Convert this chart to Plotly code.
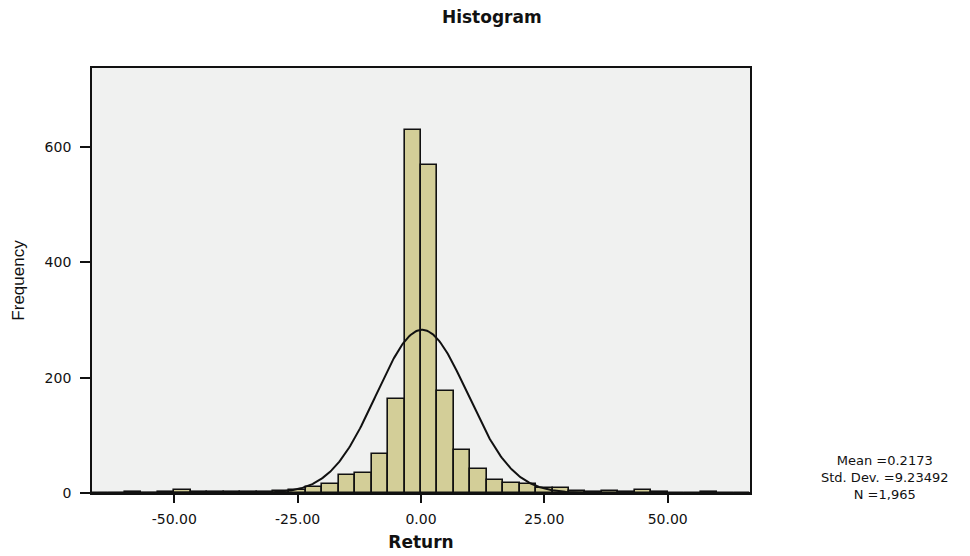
import numpy as np
import plotly.graph_objects as go

# ---- data ----
bin_width = 10.0 / 3.0
bin_left_edges = [i * bin_width for i in range(-20, 20)]
counts = [0, 0, 1, 0, 1, 5, 1, 1, 2, 2,
          2, 3, 6, 10, 16, 32, 35, 67, 163, 630,
          569, 177, 74, 42, 22, 17, 15, 8, 9, 3,
          2, 3, 2, 5, 1, 0, 0, 1, 0, 0]
stat_mean = 0.2173
stat_sd = 9.23492
stat_n = 1965
x_tick_vals = [-50, -25, 0, 25, 50]
x_tick_text = ["-50.00", "-25.00", "0.00", "25.00", "50.00"]
y_tick_vals = [0, 200, 400, 600]
stat_lines = ["Mean =0.2173", "Std. Dev. =9.23492", "N =1,965"]

centers = [e + bin_width / 2 for e in bin_left_edges]

# normal curve implied by the stated statistics
xc = np.linspace(-66.67, 66.67, 600)
yc = stat_n * bin_width / (stat_sd * np.sqrt(2 * np.pi)) * np.exp(-0.5 * ((xc - stat_mean) / stat_sd) ** 2)

fig = go.Figure()
fig.add_trace(go.Bar(
    x=centers, y=counts, width=bin_width,
    marker=dict(color="#D3CE98", line=dict(color="#111111", width=1.6)),
    hoverinfo="x+y", showlegend=False,
))
fig.add_trace(go.Scatter(
    x=xc, y=yc, mode="lines",
    line=dict(color="#111111", width=2), showlegend=False, hoverinfo="skip",
))

PL, PR, PT, PB = 92, 220, 68, 63
W, H = 970, 556
ph = H - PT - PB

fig.update_layout(
    width=W, height=H,
    margin=dict(l=PL, r=PR, t=PT, b=PB, autoexpand=False),
    paper_bgcolor="white",
    plot_bgcolor="#F0F1F0",
    bargap=0,
    title=dict(text="<b>Histogram</b>", x=0.507, xref="container", xanchor="center",
               y=1 - 17 / H, yref="container", yanchor="middle",
               font=dict(family="DejaVu Sans", size=17, color="#111111")),
    font=dict(family="DejaVu Sans", color="#111111"),
)

fig.update_xaxes(
    range=[-66.67, 66.67], automargin=False,
    tickvals=x_tick_vals, ticktext=x_tick_text,
    ticks="outside", ticklen=8, tickwidth=1.5, tickcolor="#111111",
    tickfont=dict(family="DejaVu Sans", size=14, color="#111111"),
    ticklabelstandoff=4,
    showline=True, linecolor="#111111", linewidth=1.8, mirror=True,
    showgrid=False, zeroline=False,
    title=dict(text="<b>Return</b>", standoff=10,
               font=dict(family="DejaVu Sans", size=17, color="#111111")),
)
fig.update_yaxes(
    range=[0, 737], automargin=False,
    tickvals=y_tick_vals,
    ticks="outside", ticklen=10, tickwidth=1.5, tickcolor="#111111",
    tickfont=dict(family="DejaVu Sans", size=14, color="#111111"),
    ticklabelstandoff=6,
    showline=True, linecolor="#111111", linewidth=1.8, mirror=True,
    showgrid=False, zeroline=False,
    title=dict(text="Frequency", standoff=16,
               font=dict(family="Liberation Sans Narrow, Arial Narrow, Liberation Sans", size=17, color="#111111")),
)

fig.add_annotation(
    text="<br>".join(stat_lines), xref="paper", yref="paper",
    x=(884 - PL) / (W - PL - PR), y=(H - PB - 477) / ph,
    xanchor="center", yanchor="middle", align="center", showarrow=False,
    font=dict(family="DejaVu Sans", size=13, color="#111111"),
)

fig.write_html("out.html")
